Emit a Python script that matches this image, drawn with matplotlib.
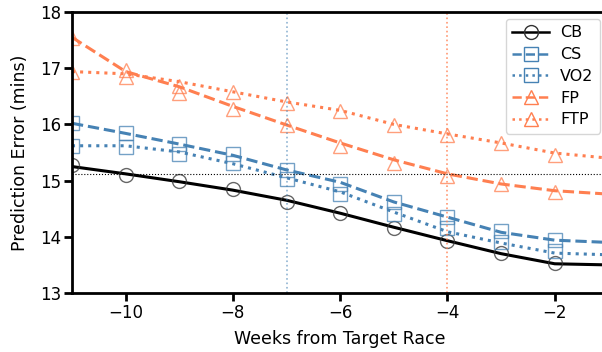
import matplotlib
matplotlib.use('Agg')
import matplotlib.pyplot as plt
from matplotlib.lines import Line2D

# weeks before the target race
weeks = [-11, -10, -9, -8, -7, -6, -5, -4, -3, -2]
line_weeks = [-11, -10, -9, -8, -7, -6, -5, -4, -3, -2, -1]

# marker values (mins)
cb_pts = [15.28, 15.10, 14.99, 14.85, 14.62, 14.42, 14.16, 13.93, 13.71, 13.53]
cs_pts = [16.02, 15.85, 15.65, 15.47, 15.18, 14.94, 14.62, 14.35, 14.10, 13.94]
vo2_pts = [15.62, 15.60, 15.47, 15.31, 15.03, 14.76, 14.41, 14.16, 13.90, 13.75]
fp_pts = [17.54, 16.97, 16.56, 16.27, 15.99, 15.62, 15.32, 15.08, 14.94, 14.80]
ftp_pts = [16.94, 16.85, 16.68, 16.58, 16.38, 16.23, 15.99, 15.81, 15.67, 15.46]

# smoothed trend lines (mins)
cb_line = [15.25, 15.12, 14.98, 14.83, 14.65, 14.42, 14.17, 13.93, 13.70, 13.52, 13.50]
cs_line = [16.02, 15.84, 15.65, 15.45, 15.19, 14.97, 14.62, 14.35, 14.08, 13.94, 13.90]
vo2_line = [15.62, 15.62, 15.51, 15.30, 15.05, 14.80, 14.44, 14.09, 13.89, 13.71, 13.68]
fp_line = [17.55, 16.94, 16.67, 16.32, 15.99, 15.67, 15.37, 15.12, 14.94, 14.82, 14.76]
ftp_line = [16.94, 16.90, 16.76, 16.58, 16.40, 16.25, 16.00, 15.83, 15.67, 15.49, 15.40]

labels = ['CB', 'CS', 'VO2', 'FP', 'FTP']
ref_error = 15.12
cs_week = -7
fp_week = -4

blue = '#4682b4'
orange = '#ff7f50'

plt.rcParams['font.family'] = 'DejaVu Sans'
plt.rcParams['font.size'] = 12

fig = plt.figure(figsize=(6.02, 3.52), dpi=100)
ax = fig.add_axes([0.1196, 0.1676, 0.891, 0.7983])

series = [
    (cb_pts, cb_line, 'k', '-', 'o'),
    (cs_pts, cs_line, blue, '--', 's'),
    (vo2_pts, vo2_line, blue, ':', 's'),
    (fp_pts, fp_line, orange, '--', '^'),
    (ftp_pts, ftp_line, orange, ':', '^'),
]

handles = []
for (pts, ln, c, ls, m), lab in zip(series, labels):
    mc = '#333333' if c == 'k' else c
    ax.plot(line_weeks, ln, color=c, ls=ls, lw=2.2)
    ax.plot(weeks, pts, ls='none', marker=m, ms=10, mfc='none',
            mec=mc, mew=1.0, alpha=0.75)
    handles.append(Line2D([], [], color=c, ls=ls, lw=1.8, marker=m, ms=10,
                          mfc='none', mew=1.0, mec=mc))

ax.axhline(ref_error, color='k', ls=':', lw=0.8)
ax.axvline(cs_week, color=blue, ls=':', lw=1.2, alpha=0.6)
ax.axvline(fp_week, color=orange, ls=':', lw=1.2, alpha=0.8)

ax.set_xlim(-11, -1)
ax.set_ylim(13, 18)
ax.set_xticks([-10, -8, -6, -4, -2])
ax.set_yticks([13, 14, 15, 16, 17, 18])
ax.tick_params(direction='out', length=6, width=2, labelsize=12, pad=2)
for s in ax.spines.values():
    s.set_linewidth(2)

ax.set_xlabel('Weeks from Target Race', fontsize=12.5, labelpad=6)
ax.set_ylabel('Prediction Error (mins)', fontsize=12.5, labelpad=8)

fig.legend(handles, labels, loc='upper right',
           bbox_to_anchor=(600 / 602, 1 - 19 / 352), fontsize=11.5,
           handlelength=2.3, handletextpad=0.7, labelspacing=0.42,
           borderaxespad=0)

fig.savefig('out.png', dpi=100)
